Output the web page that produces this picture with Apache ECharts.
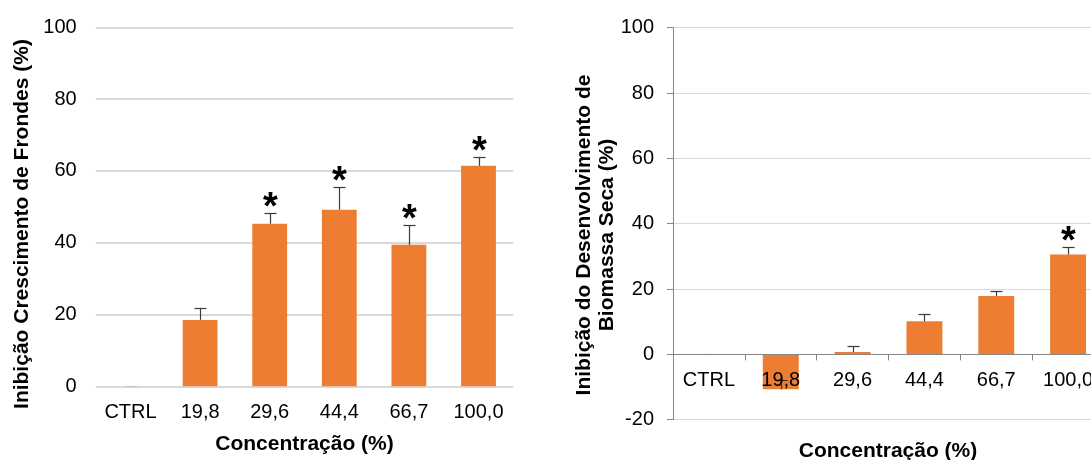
<!DOCTYPE html>
<html><head><meta charset="utf-8">
<script src="https://cdn.jsdelivr.net/npm/echarts@6/dist/echarts.min.js"></script>
<style>html,body{margin:0;padding:0;background:#fff}#c{width:1091px;height:460px}</style>
</head><body><div id="c"></div>
<script>
// ---- data ----
const categories = ['CTRL', '19,8', '29,6', '44,4', '66,7', '100,0'];
const frondValues = [0, 18.5, 45.3, 49.2, 39.4, 61.4];
const frondErrors = [0, 3.2, 3.1, 6.3, 5.4, 2.6];
const frondSignif = [0, 0, 1, 1, 1, 1];
const biomassValues = [0, -10.7, 0.7, 10.1, 17.9, 30.6];
const biomassErrors = [0, 3.0, 1.8, 2.2, 1.6, 2.3];
const biomassSignif = [0, 0, 0, 0, 0, 1];
const leftAxisRange = [0, 100];
const rightAxisRange = [-20, 100];
const tickStep = 20;
const leftYTitle = 'Inibição Crescimento de Frondes (%)';
const rightYTitle = 'Inibição do Desenvolvimento de\nBiomassa Seca (%)';
const xTitle = 'Concentração (%)';

const FONT = '"Liberation Sans", Arial, sans-serif';
const ORANGE = '#ED7D31';

const leftGrid = {left: 95.7, top: 27.3, width: 417.6, height: 359, outerBoundsMode: 'none', containLabel: false};
const rightGrid = {left: 673, top: 27.7, width: 431, height: 392, outerBoundsMode: 'none', containLabel: false};
// x axis of right panel sits at value 0
const rightZeroOffset = -rightGrid.height * (0 - rightAxisRange[0]) / (rightAxisRange[1] - rightAxisRange[0]);

function errData(vals, errs, sig) {
  return vals.map((v, i) => [i, v, errs[i], sig[i]]);
}
function errRender(params, api) {
  const i = api.value(0), v = api.value(1), e = api.value(2), s = api.value(3);
  const base = api.coord([i, v]);
  const top = api.coord([i, v + e]);
  const col = e > 0 ? '#3a3a3a' : '#c8c8c8';
  const cx = Math.round(top[0]) + 0.5;
  const ty = Math.round(top[1]) + 0.5;
  const children = [];
  if (e > 0) {
    children.push({type: 'line', shape: {x1: cx, y1: base[1], x2: cx, y2: ty}, style: {stroke: col, lineWidth: 1.2}});
  }
  children.push({type: 'line', shape: {x1: cx - 6, y1: ty, x2: cx + 6, y2: ty}, style: {stroke: col, lineWidth: 1.2}});
  if (s) {
    children.push({type: 'text', x: cx, y: ty + 14, style: {
      text: '*', font: 'bold 38px ' + FONT, fill: '#000',
      align: 'center', verticalAlign: 'bottom', textAlign: 'center', textVerticalAlign: 'bottom'}});
  }
  return {type: 'group', children};
}
function titleText(text, x, y, rot, lh) {
  return {type: 'text', x: x, y: y, rotation: rot, style: {
    text: text, font: 'bold 21px ' + FONT, fill: '#000', lineHeight: lh || 24,
    align: 'center', verticalAlign: 'middle', textAlign: 'center', textVerticalAlign: 'middle'}};
}

const chart = echarts.init(document.getElementById('c'), null, {renderer: 'canvas'});
const labelStyle = {fontSize: 20, fontFamily: FONT, color: '#000'};
chart.setOption({
  animation: false,
  backgroundColor: '#fff',
  grid: [leftGrid, rightGrid],
  xAxis: [
    {gridIndex: 0, type: 'category', data: categories,
     axisLine: {show: false}, axisTick: {show: false},
     axisLabel: Object.assign({margin: 16, interval: 0}, labelStyle)},
    {gridIndex: 1, type: 'category', data: categories, position: 'bottom', offset: rightZeroOffset, z: 10,
     axisLine: {show: true, onZero: false, lineStyle: {color: '#868686', width: 1}},
     axisTick: {show: true, length: 6, lineStyle: {color: '#868686'}},
     axisLabel: Object.assign({margin: 16, interval: 0, hideOverlap: false}, labelStyle)}
  ],
  yAxis: [
    {gridIndex: 0, type: 'value', min: leftAxisRange[0], max: leftAxisRange[1], interval: tickStep,
     axisLine: {show: false}, axisTick: {show: false},
     splitLine: {show: true, lineStyle: {color: '#d9d9d9', width: 2}},
     axisLabel: Object.assign({margin: 19}, labelStyle)},
    {gridIndex: 1, type: 'value', min: rightAxisRange[0], max: rightAxisRange[1], interval: tickStep,
     axisLine: {show: true, lineStyle: {color: '#868686', width: 1}},
     axisTick: {show: true, length: 6, lineStyle: {color: '#868686'}},
     splitLine: {show: true, lineStyle: {color: '#d9d9d9', width: 1}},
     axisLabel: Object.assign({margin: 19}, labelStyle)}
  ],
  series: [
    {type: 'bar', xAxisIndex: 0, yAxisIndex: 0, data: frondValues, barWidth: '50%',
     itemStyle: {color: ORANGE}},
    {type: 'bar', xAxisIndex: 1, yAxisIndex: 1, data: biomassValues, barWidth: '50%',
     itemStyle: {color: ORANGE}},
    {type: 'custom', xAxisIndex: 0, yAxisIndex: 0, renderItem: errRender, z: 5,
     data: errData(frondValues, frondErrors, frondSignif), encode: {x: 0, y: 1}},
    {type: 'custom', xAxisIndex: 1, yAxisIndex: 1, renderItem: errRender, z: 5,
     data: errData(biomassValues, biomassErrors, biomassSignif), encode: {x: 0, y: 1}}
  ],
  graphic: [
    titleText(leftYTitle, 22, 224, Math.PI / 2),
    titleText(xTitle, 304.5, 444.5, 0),
    titleText(rightYTitle, 596, 235, Math.PI / 2, 23.3),
    titleText(xTitle, 888, 451, 0)
  ]
});
</script></body></html>
